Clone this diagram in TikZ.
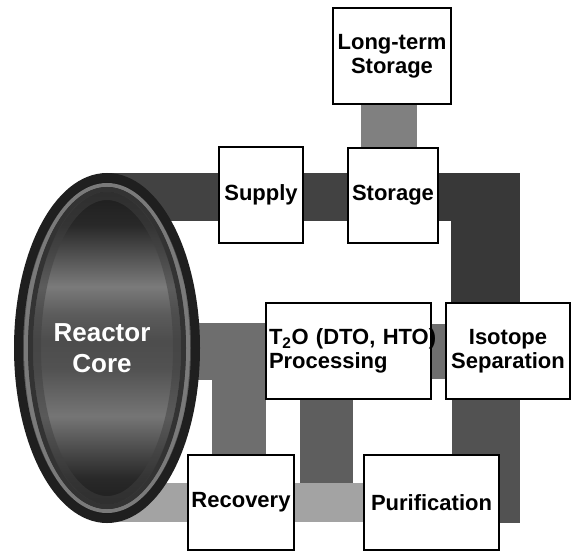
\documentclass[tikz,border=0pt]{standalone}
\usepackage{fontspec}
\setsansfont{Liberation Sans}
\usetikzlibrary{shapes.geometric}
\newcommand\boxfont{\sffamily\bfseries\fontsize{22}{24}\selectfont}
\newcommand\corefont{\sffamily\bfseries\fontsize{26}{31}\selectfont}
\pgfdeclarelayer{bg}
\pgfsetlayers{bg,main}
\pgfdeclareverticalshading{coreglow}{100bp}{color(0bp)=(black!90); color(25bp)=(black!90);
  color(31bp)=(black!84); color(40bp)=(black!54); color(47bp)=(black!68); color(51bp)=(black!70);
  color(55bp)=(black!64); color(59bp)=(black!52); color(68bp)=(black!84); color(75bp)=(black!90);
  color(100bp)=(black!90)}
\colorlet{toneA}{black!78}
\colorlet{toneB}{black!74}
\colorlet{toneC}{black!50}
\colorlet{toneD}{black!57}
\colorlet{toneE}{black!63}
\colorlet{toneF}{black!36}
\colorlet{toneG}{black!68}
\tikzset{
  plant/.style={draw, line width=1.5pt, fill=white, inner sep=2pt, align=center, font=\boxfont},
  pipe/.style={line width=#1, line cap=butt},
  coreshape/.style={ellipse, draw=black!88, line width=9pt, minimum width=177pt, minimum height=341pt,
    shading=coreglow, text=white, font=\corefont, align=center, inner sep=0pt}
}
\begin{document}
\begin{tikzpicture}[x=1pt,y=-1pt]
\useasboundingbox (0,0) rectangle (572,551);
% reactor core
\node[coreshape] (core) at (107,348) {\hspace*{-10pt}Reactor\\\hspace*{-10pt}Core};
\draw[black!52, line width=4pt] (core.center) ellipse [x radius=81pt, y radius=163pt];
\draw[black!80, line width=5pt] (core.center) ellipse [x radius=76.5pt, y radius=158.5pt];
\draw[black!75, line width=8pt, opacity=0.5] (core.center) ellipse [x radius=70pt, y radius=152pt];
% process units
\node[plant, minimum width=118pt, minimum height=96pt] (lts) at (392,56) {Long-term\\Storage};
\node[plant, minimum width=90pt, minimum height=95pt] (storage) at (393,195.5) {Storage};
\node[plant, minimum width=84pt, minimum height=96pt] (supply) at (261,195) {Supply};
\node[plant, minimum width=165pt, minimum height=96pt, text width=159pt, align=left, inner sep=3pt]
  (t2o) at (348.5,351) {\makebox[159pt][l]{T\textsubscript{2}O (DTO, HTO)}\\Processing};
\node[plant, minimum width=124pt, minimum height=96pt] (iso) at (508,351) {Isotope\\Separation};
\node[plant, minimum width=106pt, minimum height=95pt] (recovery) at (241,502.5) {Recovery};
\node[plant, minimum width=135pt, minimum height=95pt] (purif) at (431.5,502.5) {Purification};
% pipes behind everything
\begin{pgfonlayer}{bg}
\draw[pipe=48pt, toneB] (core.center |- 0,197) -- (storage.center |- 0,197);
\draw[pipe=48pt, toneA] (storage.center |- 0,197) -- (520,197);
\draw[pipe=69pt, toneA] (485.5,173) -- (485.5,0 |- iso.north);
\draw[pipe=56pt, toneC] (389,0 |- lts.south) -- (389,0 |- storage.north);
\draw[pipe=57pt, toneD] (core.center |- 0,351.5) -- (t2o.west |- 0,351.5);
\draw[pipe=54pt, toneD] (239,323) -- (239,0 |- recovery.north);
\draw[pipe=55pt, toneD] (t2o.east) -- (iso.west);
\draw[pipe=53pt, toneE] (326.5,0 |- t2o.south) -- (326.5,483);
\draw[pipe=39pt, toneF] (core.center |- 0,502.5) -- (purif.west |- 0,502.5);
\draw[pipe=68pt, toneG] (486,0 |- iso.south) -- (486,523);
\end{pgfonlayer}
\end{tikzpicture}
\end{document}
